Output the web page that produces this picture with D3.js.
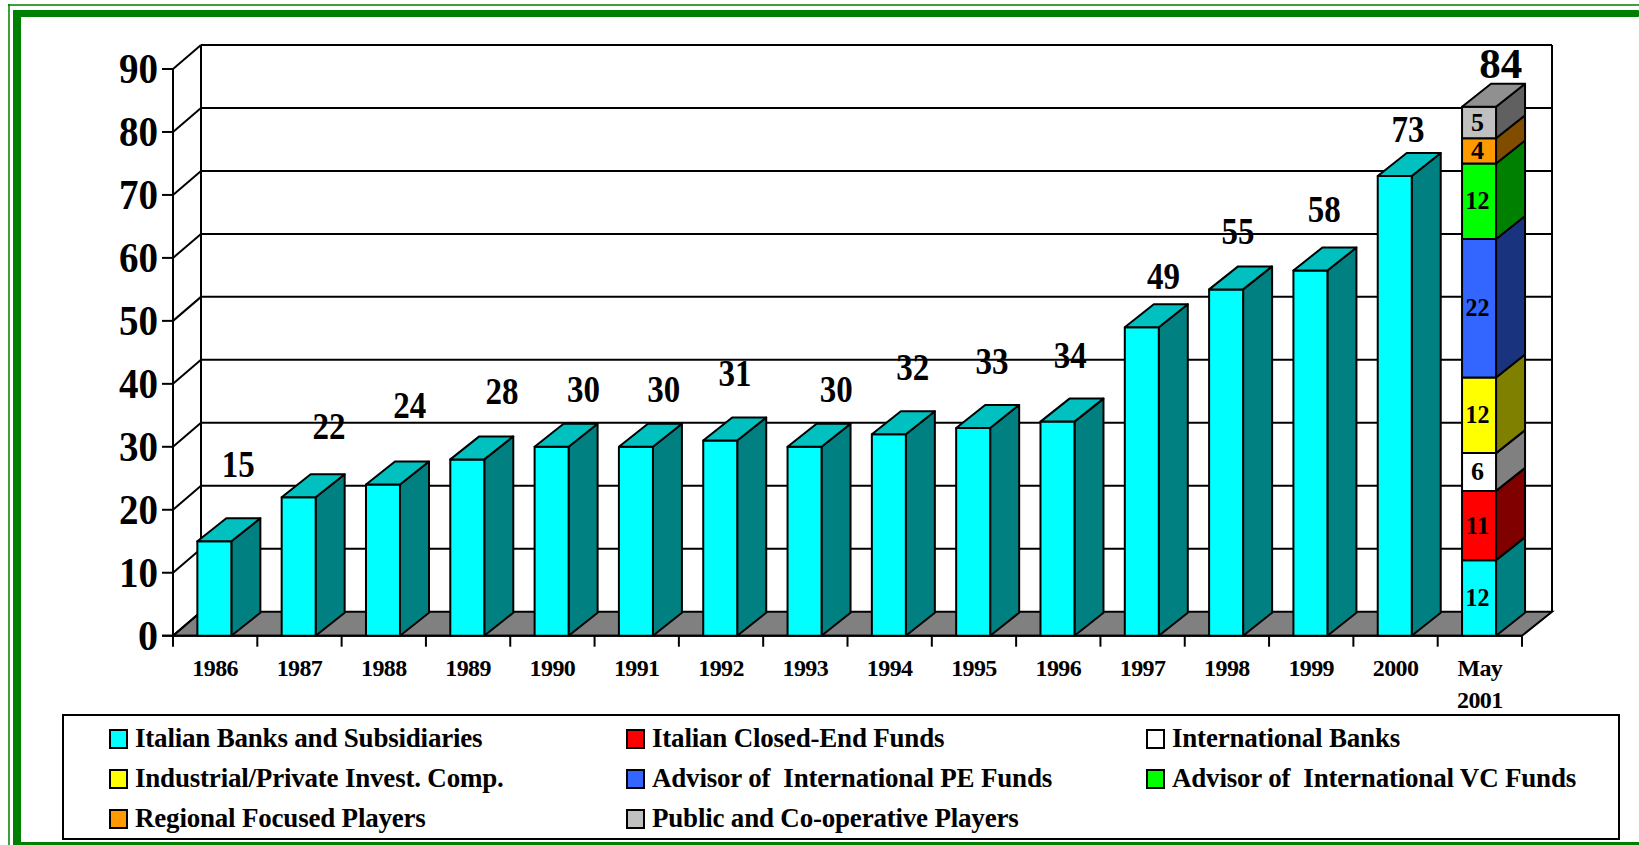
<!DOCTYPE html>
<html>
<head>
<meta charset="utf-8">
<title>Italian private equity players</title>
<script src="https://cdn.jsdelivr.net/npm/d3@7"></script>
<style>
  html, body { margin: 0; padding: 0; background: #fff; overflow: hidden; }
  svg { display: block; font-family: "Liberation Serif", serif; font-weight: bold; }
</style>
</head>
<body>
<svg id="chart" width="1639" height="845"></svg>
<script>
/* ── Data ── */
const CATEGORIES = ['1986', '1987', '1988', '1989', '1990', '1991', '1992', '1993',
                    '1994', '1995', '1996', '1997', '1998', '1999', '2000', 'May 2001'];
const TOTALS     = [15, 22, 24, 28, 30, 30, 31, 30, 32, 33, 34, 49, 55, 58, 73, 84];
const Y_TICKS    = [0, 10, 20, 30, 40, 50, 60, 70, 80, 90];

/* last column is split by player type */
const SERIES_NAMES = [
  'Italian Banks and Subsidiaries', 'Italian Closed-End Funds', 'International Banks',
  'Industrial/Private Invest. Comp.', 'Advisor of  International PE Funds', 'Advisor of  International VC Funds',
  'Regional Focused Players', 'Public and Co-operative Players',
];
const MAY_2001_VALUES = [12, 11, 6, 12, 22, 12, 4, 5];

/* ── Styles ── */
const FRONT_COLORS = ['#00FFFF', '#FF0000', '#FFFFFF', '#FFFF00', '#3366FF', '#00FF00', '#FF9900', '#C0C0C0'];
const SIDE_COLORS  = ['#008080', '#800000', '#808080', '#808000', '#1A337F', '#008000', '#804C00', '#606060'];
const TOP_CYAN = '#00C0C0';
const TOP_GRAY = '#909090';
const GREEN = '#008000';

/* ── Layout ── */
const PLOT = { left: 173, right: 1522, top: 69, bottom: 635.7 };
const DEPTH_X = 28, DEPTH_Y = 24;      // offset of the back wall
const BAR_W = 34, BAR_DX = 29, BAR_DY = 23;

/* data labels sit by hand in the source, so each keeps its own nudge */
const LABEL_SHIFT = [23, 29.5, 26, 34, 31, 27, 14, 31, 23, 18, 12, 21, 11, 13, 12.5, 21];
const LABEL_LIFT  = [64, 58, 66.6, 55, 45, 45, 54.5, 45, 54, 54, 54, 38, 45, 48.5, 34, 29];

const LEGEND_BOX = { x: 63, y: 715, w: 1556, h: 124 };
const LEGEND_COLS = [110, 627, 1147];
const LEGEND_ROWS = [730, 770, 810];

const svg = d3.select('#chart');

const xBand = d3.scaleBand().domain(CATEGORIES).range([PLOT.left, PLOT.right]);
const xEdge = d3.scaleLinear().domain([0, CATEGORIES.length]).range([PLOT.left, PLOT.right]);
const yScale = d3.scaleLinear().domain([0, 90]).range([PLOT.bottom, PLOT.top]);

const pts = arr => arr.map(p => p.join(',')).join(' ');

/* ── Green frame ── */
const frame = svg.append('g').attr('fill', GREEN);
frame.append('rect').attr('x', 8).attr('y', 4).attr('width', 1631).attr('height', 2).attr('opacity', 0.75);
frame.append('rect').attr('x', 8).attr('y', 4).attr('width', 2).attr('height', 841).attr('opacity', 0.75);
frame.append('rect').attr('x', 13).attr('y', 10).attr('width', 1626).attr('height', 7).attr('rx', 1);
frame.append('rect').attr('x', 13).attr('y', 10).attr('width', 8).attr('height', 835).attr('rx', 1);
frame.append('rect').attr('x', 13).attr('y', 842).attr('width', 1626).attr('height', 3);

/* ── Walls, floor, grid ── */
const wall = svg.append('g').attr('stroke', '#000').attr('stroke-width', 2).attr('fill', 'none');

wall.append('polygon')
  .attr('fill', '#808080')
  .attr('points', pts([
    [PLOT.left, PLOT.bottom], [PLOT.right, PLOT.bottom],
    [PLOT.right + DEPTH_X + 2, PLOT.bottom - DEPTH_Y], [PLOT.left + DEPTH_X, PLOT.bottom - DEPTH_Y],
  ]));

Y_TICKS.slice(1).forEach(v => {
  const y = yScale(v);
  wall.append('line')
    .attr('x1', PLOT.left + DEPTH_X).attr('x2', PLOT.right + DEPTH_X + 2)
    .attr('y1', y - DEPTH_Y).attr('y2', y - DEPTH_Y);
});
Y_TICKS.forEach(v => {
  const y = yScale(v);
  wall.append('line')
    .attr('x1', PLOT.left).attr('x2', PLOT.left + DEPTH_X)
    .attr('y1', y).attr('y2', y - DEPTH_Y);
});
wall.append('line')
  .attr('x1', PLOT.left + DEPTH_X).attr('x2', PLOT.left + DEPTH_X)
  .attr('y1', yScale(90) - DEPTH_Y).attr('y2', PLOT.bottom - DEPTH_Y);
wall.append('line')
  .attr('x1', PLOT.right + DEPTH_X + 2).attr('x2', PLOT.right + DEPTH_X + 2)
  .attr('y1', yScale(90) - DEPTH_Y).attr('y2', PLOT.bottom - DEPTH_Y);

/* ── Axes ── */
svg.append('g')
  .attr('transform', `translate(${PLOT.left},0)`)
  .call(d3.axisLeft(yScale).tickValues(Y_TICKS).tickSize(11).tickPadding(4).offset(0))
  .call(ax => ax.selectAll('line, path').attr('stroke', '#000').attr('stroke-width', 2))
  .call(ax => ax.selectAll('text')
    .attr('fill', '#000')
    .attr('font-size', 42)
    .attr('font-family', '"Liberation Serif", serif')
    .attr('font-weight', 'bold')
    .attr('textLength', d => (d < 10 ? 20 : 39))
    .attr('lengthAdjust', 'spacingAndGlyphs')
    .attr('dy', '0.33em'));

svg.append('g')
  .attr('transform', `translate(0,${PLOT.bottom})`)
  .call(d3.axisBottom(xEdge).ticks(CATEGORIES.length).tickSize(11).tickSizeOuter(0).tickFormat('').offset(0))
  .call(ax => ax.selectAll('line, path').attr('stroke', '#000').attr('stroke-width', 2));

svg.append('g')
  .attr('transform', `translate(0,${PLOT.bottom})`)
  .call(d3.axisBottom(xBand).tickSize(0).offset(0))
  .call(ax => ax.select('.domain').remove())
  .call(ax => ax.selectAll('text')
    .attr('fill', '#000')
    .attr('font-size', 24)
    .attr('font-family', '"Liberation Serif", serif')
    .attr('font-weight', 'bold')
    .attr('letter-spacing', -0.6)
    .attr('y', 40)
    .attr('dy', 0)
    .each(function (d) {
      const words = d.split(' ');
      if (words.length < 2) return;
      const t = d3.select(this).text(null);
      words.forEach((w, i) => t.append('tspan').attr('x', 0).attr('dy', i ? 32 : 0).text(w));
    }));

/* ── 3D bars ── */
function drawBlock(g, x, v0, v1, front, side) {
  const y0 = yScale(v0), y1 = yScale(v1);
  g.append('polygon')
    .attr('fill', side)
    .attr('points', pts([[x + BAR_W, y0], [x + BAR_W + BAR_DX, y0 - BAR_DY],
                         [x + BAR_W + BAR_DX, y1 - BAR_DY], [x + BAR_W, y1]]));
  g.append('rect')
    .attr('x', x).attr('y', y1)
    .attr('width', BAR_W).attr('height', y0 - y1)
    .attr('fill', front);
}

function drawTop(g, x, v, color) {
  const y = yScale(v);
  g.append('polygon')
    .attr('fill', color)
    .attr('points', pts([[x, y], [x + BAR_DX, y - BAR_DY], [x + BAR_W + BAR_DX, y - BAR_DY], [x + BAR_W, y]]));
}

const bars = svg.append('g').attr('stroke', '#000').attr('stroke-width', 2).attr('stroke-linejoin', 'round');

CATEGORIES.forEach((cat, i) => {
  const x = xBand(cat) + xBand.bandwidth() / 2 - BAR_W / 2 - 0.8;
  if (i < CATEGORIES.length - 1) {
    drawBlock(bars, x, 0, TOTALS[i], FRONT_COLORS[0], SIDE_COLORS[0]);
    drawTop(bars, x, TOTALS[i], TOP_CYAN);
  } else {
    let base = 0;
    MAY_2001_VALUES.forEach((v, s) => {
      drawBlock(bars, x, base, base + v, FRONT_COLORS[s], SIDE_COLORS[s]);
      bars.append('text')
        .attr('x', x + BAR_W / 2 - 1.5)
        .attr('y', yScale(base + v / 2) + 8)
        .attr('text-anchor', 'middle')
        .attr('stroke', 'none')
        .attr('fill', '#000')
        .attr('font-size', 26)
        .attr('textLength', v < 10 ? 13 : 24)
        .attr('lengthAdjust', 'spacingAndGlyphs')
        .text(v);
      base += v;
    });
    drawTop(bars, x, base, TOP_GRAY);
  }
});

/* ── Totals above the bars ── */
TOTALS.forEach((v, i) => {
  const last = i === TOTALS.length - 1;
  svg.append('text')
    .attr('x', xBand(CATEGORIES[i]) + xBand.bandwidth() / 2 + LABEL_SHIFT[i])
    .attr('y', yScale(v) - LABEL_LIFT[i])
    .attr('text-anchor', 'middle')
    .attr('fill', '#000')
    .attr('font-size', last ? 43 : 38)
    .attr('textLength', last ? 43 : 33)
    .attr('lengthAdjust', 'spacingAndGlyphs')
    .text(v);
});

/* ── Legend ── */
const legend = svg.append('g');
legend.append('rect')
  .attr('x', LEGEND_BOX.x).attr('y', LEGEND_BOX.y)
  .attr('width', LEGEND_BOX.w).attr('height', LEGEND_BOX.h)
  .attr('fill', '#fff').attr('stroke', '#000').attr('stroke-width', 2);

SERIES_NAMES.forEach((name, i) => {
  const x = LEGEND_COLS[i % 3], y = LEGEND_ROWS[Math.floor(i / 3)];
  legend.append('rect')
    .attr('x', x).attr('y', y)
    .attr('width', 17).attr('height', 18)
    .attr('fill', FRONT_COLORS[i])
    .attr('stroke', '#000').attr('stroke-width', 2);
  legend.append('text')
    .attr('x', x + 25)
    .attr('y', y + 17)
    .attr('fill', '#000')
    .attr('font-size', 27)
    .attr('letter-spacing', -0.2)
    .style('white-space', 'pre')
    .text(name);
});
</script>
</body>
</html>
